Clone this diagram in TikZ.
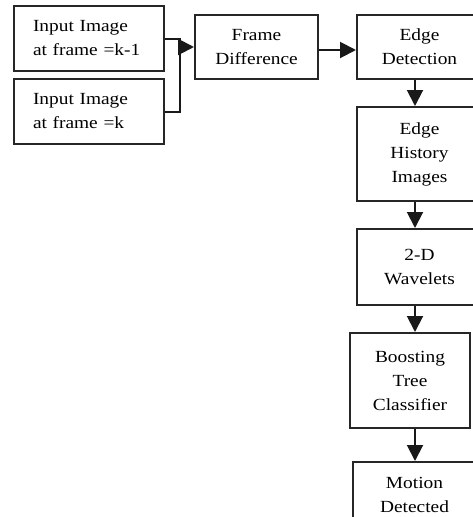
\documentclass[tikz,border=0pt]{standalone}
\usepackage{fontspec}
\newfontfamily\lsf[FakeStretch=1.14]{Liberation Serif}
\usetikzlibrary{arrows.meta}
\begin{document}
\begin{tikzpicture}[x=1pt,y=-1pt,
  every node/.style={font=\lsf\fontsize{17}{24}\selectfont},
  blk/.style={draw=black!85,line width=2pt,inner sep=0pt,align=center},
  inbox/.style={draw=black!85,line width=2pt,inner xsep=19pt,inner ysep=0pt,text width=112pt,align=left,minimum height=65pt},
  conn/.style={line width=2pt,black!90},
  arr/.style={conn,-{Triangle[length=16pt,width=16pt]}}]
\useasboundingbox (0,0) rectangle (473,517);
\clip (0,0) rectangle (473,517);
\fill[white] (0,0) rectangle (473,517);
% inputs
\node[inbox] (in1) at (89,38.5) {Input Image\\at frame =k-1};
\node[inbox] (in2) at (89,111.5) {Input Image\\at frame =k};
% main blocks
\node[blk,minimum width=123pt,minimum height=64pt] (fd) at (256.5,47) {Frame\\Difference};
\node[blk,minimum width=125pt,minimum height=64pt] (ed) at (419.5,47) {Edge\\Detection};
\node[blk,minimum width=125pt,minimum height=94pt] (eh) at (419.5,154) {Edge\\History\\Images};
\node[blk,minimum width=125pt,minimum height=76pt] (wv) at (419.5,267) {2-D\\Wavelets};
\node[blk,minimum width=120pt,minimum height=95pt] (bt) at (410,380.5) {Boosting\\Tree\\Classifier};
\node[blk,minimum width=123pt,minimum height=66pt] (md) at (414.5,495) {Motion\\Detected};
% merge connector
\coordinate (j1) at (180,38.5);
\coordinate (j2) at (180,111.5);
\coordinate (ja) at (180,47);
\coordinate (ax) at (415,0);
\draw[conn] (in1.east) -- (j1) -- (j2) -- (in2.east);
\draw[arr] (ja) -- (ja -| fd.west);
\draw[arr] (fd.east |- 0,50) -- (ed.west |- 0,50);
\draw[arr] (ed.south -| ax) -- (eh.north -| ax);
\draw[arr] (eh.south -| ax) -- (wv.north -| ax);
\draw[arr] (wv.south -| ax) -- (bt.north -| ax);
\draw[arr] (bt.south -| ax) -- (md.north -| ax);
\end{tikzpicture}
\end{document}
